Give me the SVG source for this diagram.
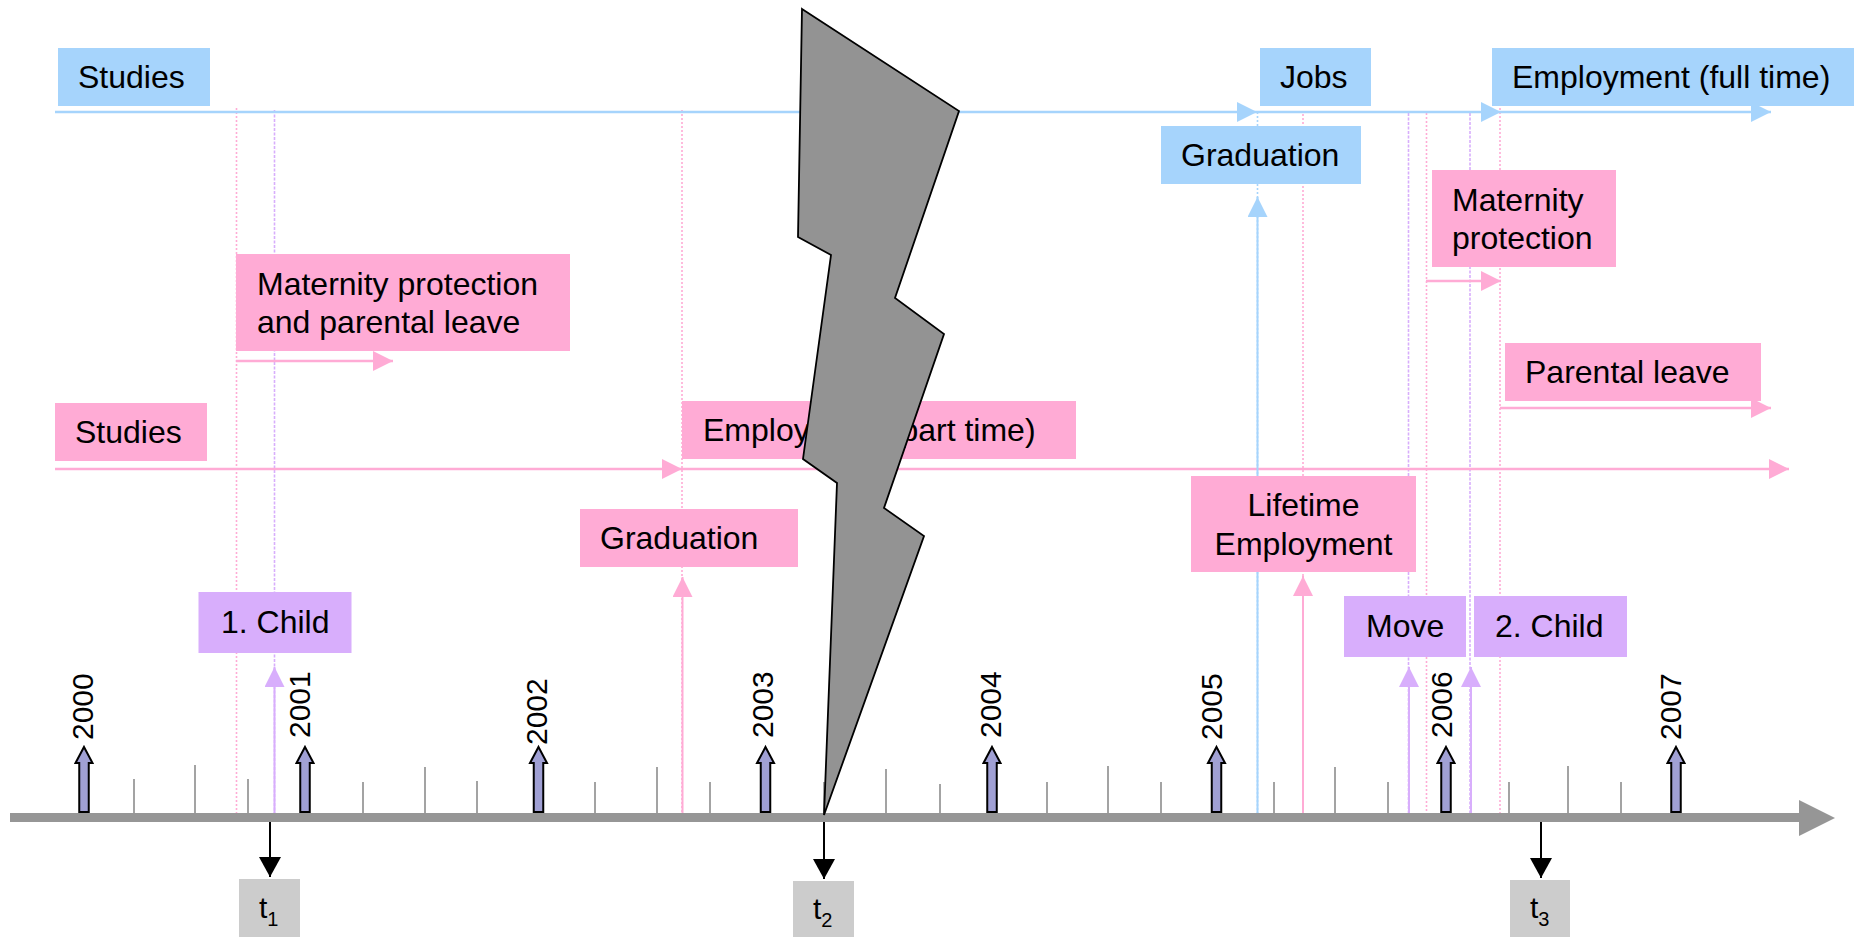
<svg xmlns="http://www.w3.org/2000/svg" width="1854" height="937" viewBox="0 0 1854 937">
<style>
text{font-family:"Liberation Sans",Arial,Helvetica,sans-serif;fill:#000}
.lbl{font-size:32px}
.yr{font-size:30px}
.blue{fill:#a6d4fc}
.pink{fill:#ffabd5}
.purp{fill:#d8aefc}
.tbox{fill:#cccccc}
.hb{stroke:#a6d4fc;stroke-width:2.5;fill:none}
.hp{stroke:#ffabd5;stroke-width:2.5;fill:none}
.dp{stroke:#ffabd5;stroke-width:1.6;stroke-dasharray:2 2;fill:none}
.du{stroke:#d8aefc;stroke-width:1.6;stroke-dasharray:3 1.5;fill:none}
.db{stroke:#a6d4fc;stroke-width:1.6;stroke-dasharray:2 2;fill:none}
.sp{stroke:#ffabd5;stroke-width:2;fill:none}
.su{stroke:#d8aefc;stroke-width:2;fill:none}
.sb{stroke:#a6d4fc;stroke-width:2;fill:none}
.sk{stroke:#000;stroke-width:2;fill:none}
.tick{stroke:#8c8c8c;stroke-width:1.6}
.yarr{fill:#a0a0d4;stroke:#000;stroke-width:2}
</style>
<defs>
<marker id="mb" markerUnits="userSpaceOnUse" viewBox="0 0 20 20" markerWidth="20" markerHeight="20" refX="20" refY="10" orient="auto"><path d="M0,0L20,10L0,20z" fill="#a6d4fc"/></marker>
<marker id="mp" markerUnits="userSpaceOnUse" viewBox="0 0 20 20" markerWidth="20" markerHeight="20" refX="20" refY="10" orient="auto"><path d="M0,0L20,10L0,20z" fill="#ffabd5"/></marker>
<marker id="mu" markerUnits="userSpaceOnUse" viewBox="0 0 20 20" markerWidth="20" markerHeight="20" refX="20" refY="10" orient="auto"><path d="M0,0L20,10L0,20z" fill="#d8aefc"/></marker>
<marker id="mk" markerUnits="userSpaceOnUse" viewBox="0 0 20 22" markerWidth="20" markerHeight="22" refX="20" refY="11" orient="auto"><path d="M0,0L20,11L0,22z" fill="#000"/></marker>
<path id="ya" d="M0,0L8.5,16L4.75,16L4.75,65L-4.75,65L-4.75,16L-8.5,16Z"/>
</defs>

<g id="connectors">
  <line class="dp" x1="236.5" y1="108" x2="236.5" y2="817"/>
  <line class="du" x1="274.5" y1="110" x2="274.5" y2="817"/>
  <line class="dp" x1="682" y1="110" x2="682" y2="817"/>
  <line class="db" x1="1257.5" y1="112" x2="1257.5" y2="817"/>
  <line class="dp" x1="1303" y1="114" x2="1303" y2="817"/>
  <line class="du" x1="1408.5" y1="113" x2="1408.5" y2="817"/>
  <line class="dp" x1="1426.5" y1="113" x2="1426.5" y2="820"/>
  <line class="du" x1="1470" y1="113" x2="1470" y2="817"/>
  <line class="dp" x1="1500" y1="108" x2="1500" y2="820"/>

  <line class="hb" x1="55" y1="112" x2="1257" y2="112" marker-end="url(#mb)"/>
  <line class="hb" x1="1257" y1="112" x2="1501" y2="112" marker-end="url(#mb)"/>
  <line class="hb" x1="1501" y1="112" x2="1771" y2="112" marker-end="url(#mb)"/>
  <line class="hp" x1="55" y1="469" x2="682" y2="469" marker-end="url(#mp)"/>
  <line class="hp" x1="682" y1="469" x2="1789" y2="469" marker-end="url(#mp)"/>
  <line class="hp" x1="236" y1="361" x2="393" y2="361" marker-end="url(#mp)"/>
  <line class="hp" x1="1426" y1="281" x2="1501" y2="281" marker-end="url(#mp)"/>
  <line class="hp" x1="1500" y1="408" x2="1771" y2="408" marker-end="url(#mp)"/>

  <line class="su" x1="274.5" y1="815" x2="274.5" y2="667" marker-end="url(#mu)"/>
  <line class="sp" x1="682.5" y1="815" x2="682.5" y2="577" marker-end="url(#mp)"/>
  <line class="sb" x1="1257.5" y1="815" x2="1257.5" y2="197" marker-end="url(#mb)"/>
  <line class="sp" x1="1303" y1="815" x2="1303" y2="576" marker-end="url(#mp)"/>
  <line class="su" x1="1409" y1="815" x2="1409" y2="667" marker-end="url(#mu)"/>
  <line class="su" x1="1471" y1="815" x2="1471" y2="667" marker-end="url(#mu)"/>

  <line class="sk" x1="270" y1="821" x2="270" y2="877" marker-end="url(#mk)"/>
  <line class="sk" x1="824" y1="821" x2="824" y2="879" marker-end="url(#mk)"/>
  <line class="sk" x1="1541" y1="821" x2="1541" y2="878" marker-end="url(#mk)"/>
</g>

<g id="n-studies-blue"><rect class="blue" x="58" y="48" width="152" height="58"/><text class="lbl" x="78" y="88">Studies</text></g>
<g id="n-jobs"><rect class="blue" x="1260" y="48" width="111" height="58"/><text class="lbl" x="1280" y="88">Jobs</text></g>
<g id="n-employment-full"><rect class="blue" x="1492" y="48" width="362" height="58"/><text class="lbl" x="1512" y="88">Employment (full time)</text></g>
<g id="n-graduation-blue"><rect class="blue" x="1161" y="126" width="200" height="58"/><text class="lbl" x="1181" y="166">Graduation</text></g>

<g id="n-maternity-parental"><rect class="pink" x="236" y="254" width="334" height="97"/><text class="lbl" x="257" y="295">Maternity protection</text><text class="lbl" x="257" y="333">and parental leave</text></g>
<g id="n-maternity-right"><rect class="pink" x="1432" y="170" width="184" height="97"/><text class="lbl" x="1452" y="211">Maternity</text><text class="lbl" x="1452" y="249">protection</text></g>
<g id="n-parental"><rect class="pink" x="1505" y="343" width="256" height="58"/><text class="lbl" x="1525" y="383">Parental leave</text></g>
<g id="n-studies-pink"><rect class="pink" x="55" y="403" width="152" height="58"/><text class="lbl" x="75" y="443">Studies</text></g>
<g id="n-employment-part"><rect class="pink" x="682" y="401" width="394" height="58"/><text class="lbl" x="703" y="441">Employment (part time)</text></g>
<g id="n-graduation-pink"><rect class="pink" x="580" y="509" width="218" height="58"/><text class="lbl" x="600" y="549">Graduation</text></g>
<g id="n-lifetime"><rect class="pink" x="1191" y="476" width="225" height="96"/><text class="lbl" x="1303.5" y="516" text-anchor="middle">Lifetime</text><text class="lbl" x="1303.5" y="555" text-anchor="middle">Employment</text></g>

<g id="n-child1"><rect class="purp" x="198.5" y="592" width="153" height="61"/><text class="lbl" x="221" y="633">1. Child</text></g>
<g id="n-move"><rect class="purp" x="1344" y="596" width="122" height="61"/><text class="lbl" x="1366" y="637">Move</text></g>
<g id="n-child2"><rect class="purp" x="1474" y="596" width="153" height="61"/><text class="lbl" x="1495" y="637">2. Child</text></g>

<g id="axis">
  <line x1="10" y1="817.5" x2="1800" y2="817.5" stroke="#969696" stroke-width="9"/>
  <polygon points="1799,800 1835,818 1799,836" fill="#969696"/>
  <g class="tick">
    <line x1="134" y1="813" x2="134" y2="779"/>
    <line x1="195" y1="813" x2="195" y2="765"/>
    <line x1="248" y1="813" x2="248" y2="779"/>
    <line x1="363" y1="813" x2="363" y2="782"/>
    <line x1="425" y1="813" x2="425" y2="767"/>
    <line x1="477" y1="813" x2="477" y2="781"/>
    <line x1="595" y1="813" x2="595" y2="782"/>
    <line x1="657" y1="813" x2="657" y2="767"/>
    <line x1="710" y1="813" x2="710" y2="782"/>
    <line x1="824" y1="813" x2="824" y2="782"/>
    <line x1="886" y1="813" x2="886" y2="769"/>
    <line x1="940" y1="813" x2="940" y2="784"/>
    <line x1="1047" y1="813" x2="1047" y2="782"/>
    <line x1="1108" y1="813" x2="1108" y2="766"/>
    <line x1="1161" y1="813" x2="1161" y2="782"/>
    <line x1="1274" y1="813" x2="1274" y2="782"/>
    <line x1="1335" y1="813" x2="1335" y2="767"/>
    <line x1="1388" y1="813" x2="1388" y2="782"/>
    <line x1="1509" y1="813" x2="1509" y2="782"/>
    <line x1="1568" y1="813" x2="1568" y2="766"/>
    <line x1="1621" y1="813" x2="1621" y2="782"/>
  </g>
</g>

<g id="years">
  <use href="#ya" class="yarr" transform="translate(84,747)"/>
  <use href="#ya" class="yarr" transform="translate(305,747)"/>
  <use href="#ya" class="yarr" transform="translate(538.5,747)"/>
  <use href="#ya" class="yarr" transform="translate(765.5,747)"/>
  <use href="#ya" class="yarr" transform="translate(992,747)"/>
  <use href="#ya" class="yarr" transform="translate(1216.5,747)"/>
  <use href="#ya" class="yarr" transform="translate(1446,747)"/>
  <use href="#ya" class="yarr" transform="translate(1676,747)"/>
  <text class="yr" transform="translate(93,740) rotate(-90)">2000</text>
  <text class="yr" transform="translate(310,738) rotate(-90)">2001</text>
  <text class="yr" transform="translate(547,745) rotate(-90)">2002</text>
  <text class="yr" transform="translate(773,738) rotate(-90)">2003</text>
  <text class="yr" transform="translate(1001,738) rotate(-90)">2004</text>
  <text class="yr" transform="translate(1222,740) rotate(-90)">2005</text>
  <text class="yr" transform="translate(1452,738) rotate(-90)">2006</text>
  <text class="yr" transform="translate(1681,740) rotate(-90)">2007</text>
</g>

<g id="n-t1"><rect class="tbox" x="239" y="879" width="61" height="58"/><text x="259" y="918" font-size="30">t<tspan font-size="20" dy="8">1</tspan></text></g>
<g id="n-t2"><rect class="tbox" x="793" y="881" width="61" height="56"/><text x="813" y="919" font-size="30">t<tspan font-size="20" dy="8">2</tspan></text></g>
<g id="n-t3"><rect class="tbox" x="1510" y="880" width="60" height="57"/><text x="1530" y="918" font-size="30">t<tspan font-size="20" dy="8">3</tspan></text></g>

<g id="lightning">
  <polygon points="802,9 959,111 895,298 944,334 884,508 924,536 824,815 837,483 803,459 831,255 798,237" fill="#939393" stroke="#000" stroke-width="1.8" stroke-linejoin="miter"/>
</g>
</svg>
